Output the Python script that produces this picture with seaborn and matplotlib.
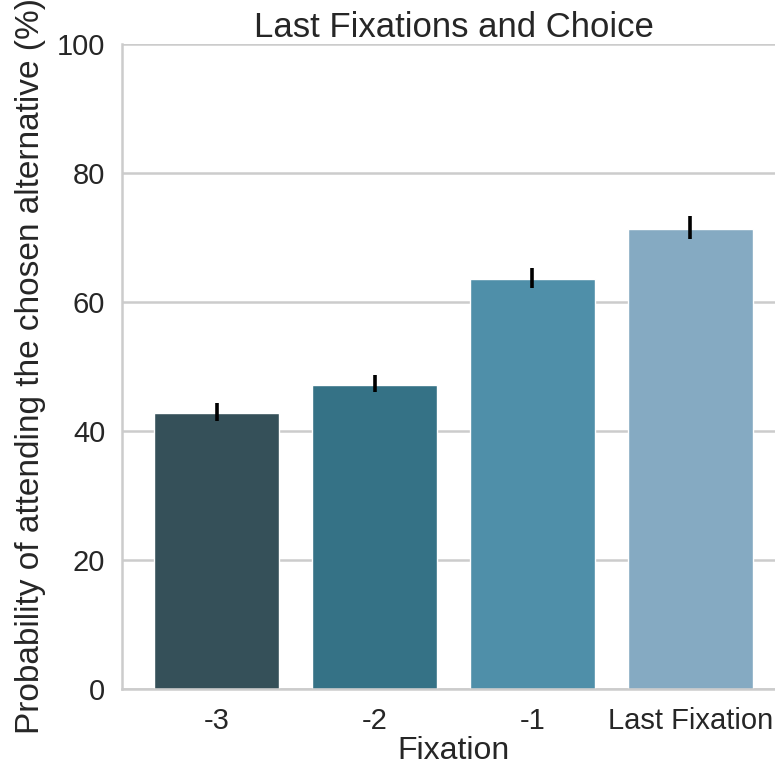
import matplotlib
matplotlib.use("Agg")
import matplotlib.pyplot as plt
import seaborn as sns
import pandas as pd
import numpy as np

categories = ["-3", "-2", "-1", "Last Fixation"]
means = [42.8, 47.2, 63.5, 71.3]
err_low = [41.5, 46.0, 62.1, 69.7]
err_high = [44.4, 48.7, 65.2, 73.3]
bar_colors = ["#355059", "#357286", "#4f8fa9", "#85aac2"]

sns.set_theme(style="whitegrid")
plt.rcParams["font.family"] = ["Liberation Sans", "DejaVu Sans"]
plt.rcParams["axes.edgecolor"] = "#cccccc"
plt.rcParams["grid.color"] = "#cccccc"

df = pd.DataFrame({"Fixation": categories, "Prob": means})

fig = plt.figure(figsize=(7.75, 7.69), dpi=100)
ax = fig.add_axes([122 / 775, 80 / 769, (785 - 122) / 775, 645 / 769])

sns.barplot(data=df, x="Fixation", y="Prob", hue="Fixation", palette=bar_colors,
            legend=False, errorbar=None, width=0.79, ax=ax, saturation=1)

x = np.arange(len(categories))
yerr = np.array([np.array(means) - np.array(err_low), np.array(err_high) - np.array(means)])
ax.errorbar(x, means, yerr=yerr, fmt="none", ecolor="black", elinewidth=2.6, capsize=0)

ax.set_xlim(-0.6, 3.6)
ax.set_ylim(0, 100)
ax.set_yticks([0, 20, 40, 60, 80, 100])
ax.grid(axis="x", visible=False)
ax.grid(axis="y", linewidth=1.8, color="#cccccc")
for s in ["top", "right"]:
    ax.spines[s].set_visible(False)
for s in ["left", "bottom"]:
    ax.spines[s].set_linewidth(1.8)
    ax.spines[s].set_color("#cccccc")
ax.tick_params(axis="both", labelsize=21, length=0, colors="#262626")
ax.tick_params(axis="x", pad=13)
ax.tick_params(axis="y", pad=12)
ax.set_title("Last Fixations and Choice", fontsize=25, color="#262626", pad=5)
ax.set_xlabel("Fixation", fontsize=23, color="#262626", labelpad=1)
ax.set_ylabel("Probability of attending the chosen alternative (%)", fontsize=24,
              color="#262626", labelpad=8)

fig.savefig("out.png", dpi=100)
